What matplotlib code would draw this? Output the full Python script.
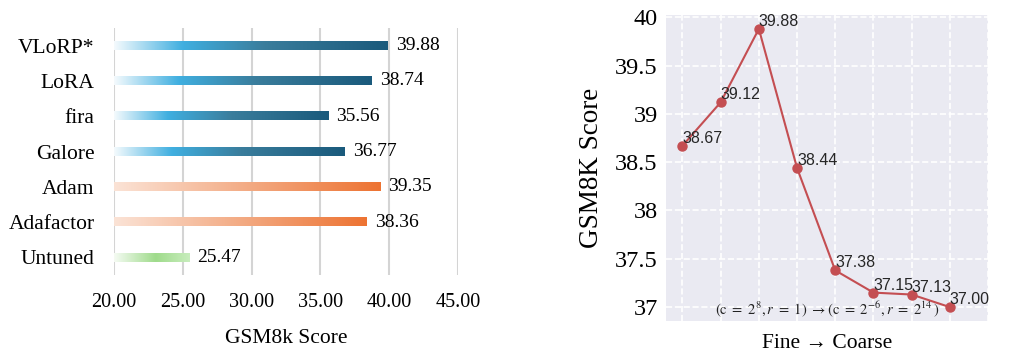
import numpy as np
import matplotlib.pyplot as plt
from matplotlib.colors import LinearSegmentedColormap

# --- data ---
methods = ['VLoRP*', 'LoRA', 'fira', 'Galore', 'Adam', 'Adafactor', 'Untuned']
scores = [39.88, 38.74, 35.56, 36.77, 39.35, 38.36, 25.47]
groups = ['blue', 'blue', 'blue', 'blue', 'orange', 'orange', 'green']
xticks_left = [20, 25, 30, 35, 40, 45]

granularity_scores = [38.67, 39.12, 39.88, 38.44, 37.38, 37.15, 37.13, 37.00]
yticks_right = [37, 37.5, 38, 38.5, 39, 39.5, 40]
yticklabels_right = ['37', '37.5', '38', '38.5', '39', '39.5', '40']

# gradient colormaps for the bars
cmaps = {
    'blue': LinearSegmentedColormap.from_list(
        'b', [(0, '#f4fafd'), (0.25, '#40afe0'), (0.55, '#3a7d9c'), (1, '#1a5a7c')]),
    'orange': LinearSegmentedColormap.from_list(
        'o', [(0, '#fbe3d6'), (0.5, '#f3ab84'), (1, '#ed7332')]),
    'green': LinearSegmentedColormap.from_list(
        'g', [(0, '#f5fbf3'), (0.55, '#9fdb8b'), (1, '#c8edbd')]),
}

serif = ['Liberation Serif', 'DejaVu Serif']
sans = ['Liberation Sans', 'DejaVu Sans']
plt.rcParams['mathtext.fontset'] = 'stix'

fig = plt.figure(figsize=(10.25, 3.63), dpi=100)

# --- left: gradient bar chart ---
ax1 = fig.add_axes([0.1112, 0.2424, 0.3356, 0.6804])
ypos = np.arange(len(methods))
bars = ax1.barh(ypos, np.array(scores) - 20, left=20, height=0.24,
                color='none', edgecolor='none', zorder=2)
grad = np.linspace(0, 1, 256).reshape(1, -1)
for bar, g in zip(bars, groups):
    x0, y0 = bar.get_x(), bar.get_y()
    w, h = bar.get_width(), bar.get_height()
    ax1.imshow(grad, cmap=cmaps[g], aspect='auto', zorder=2,
               extent=[x0, x0 + w, y0 + h, y0], interpolation='bicubic')
for y, s in zip(ypos, scores):
    ax1.annotate(f'{s:.2f}', (s, y), xytext=(6, 0), textcoords='offset points',
                 va='center', ha='left', fontsize=14, family=serif)

ax1.set_xlim(20, 45)
ax1.set_ylim(len(methods) - 0.5, -0.5)
ax1.set_xticks(xticks_left)
ax1.set_xticklabels([f'{t:.2f}' for t in xticks_left], family=serif, fontsize=14.5)
ax1.set_yticks(ypos)
ax1.set_yticklabels(methods, family=serif, fontsize=15.5)
ax1.tick_params(axis='both', length=0)
ax1.tick_params(axis='y', pad=14)
ax1.tick_params(axis='x', pad=13)
ax1.grid(axis='x', color='#d4d4d4', linewidth=1.5, zorder=0)
ax1.set_axisbelow(True)
for sp in ax1.spines.values():
    sp.set_visible(False)
ax1.set_xlabel('GSM8k Score', family=serif, fontsize=15.5, labelpad=12)

# --- right: granularity line chart ---
ax2 = fig.add_axes([0.6498, 0.1157, 0.3141, 0.843])
ax2.set_facecolor('#eaeaf2')
xs = np.arange(len(granularity_scores))
ax2.plot(xs, granularity_scores, color='#c44e52', marker='o', markersize=6.5,
         linewidth=1.5, zorder=3)
for x, s in zip(xs, granularity_scores):
    ax2.annotate(f'{s:.2f}', (x, s), xytext=(0, 0), textcoords='offset points',
                 ha='left', va='bottom', fontsize=11.5, family=sans, color='#262626')
ax2.text(0.5, 0.04,
         r'$(\mathrm{c}\ =\ 2^{8}, r\ =\ 1)\ \rightarrow (\mathrm{c}\ =\ 2^{-6}, r\ =\ 2^{14}\,)$',
         transform=ax2.transAxes, ha='center', va='center', fontsize=10.5, color='#222222')

ax2.set_xlim(-0.43, 7.93)
ax2.set_ylim(36.856, 40.024)
ax2.set_xticks(list(xs) + [8])
ax2.set_xticklabels([])
ax2.set_yticks(yticks_right)
ax2.set_yticklabels(yticklabels_right, family=serif, fontsize=17.5)
ax2.tick_params(axis='both', length=0)
ax2.tick_params(axis='y', pad=6)
ax2.grid(color='white', linestyle='--', linewidth=1.2, zorder=0)
ax2.set_axisbelow(True)
for sp in ax2.spines.values():
    sp.set_visible(False)
ax2.set_ylabel('GSM8K Score', family=serif, fontsize=19.5, labelpad=8)
ax2.set_xlabel('Fine \u2192 Coarse', family=serif, fontsize=15.5, labelpad=6)

fig.savefig('out.png', dpi=100)
plt.close(fig)
